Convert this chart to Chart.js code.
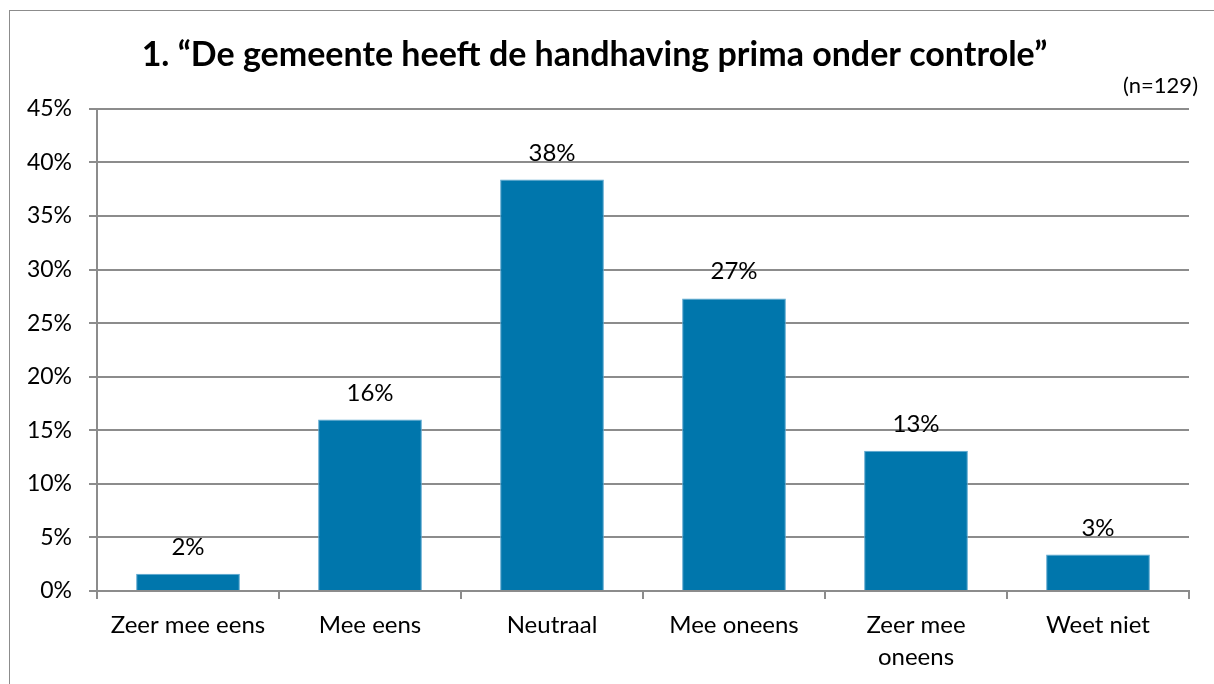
<!DOCTYPE html>
<html>
<head>
<meta charset="utf-8">
<script src="https://cdn.jsdelivr.net/npm/chart.js@4.4.1/dist/chart.umd.min.js"></script>
<style>
    html, body { margin: 0; padding: 0; background: #fff; overflow: hidden; }
    #frame { position: absolute; left: 9px; top: 10px; width: 1260px; height: 720px; border: 1px solid #8c8c8c; }
    #wrap { position: absolute; left: 0; top: 0; width: 1214px; height: 684px; }
</style>
</head>
<body>
<div id="frame"></div>
<div id="wrap"><canvas id="barChart"></canvas></div>
<script>
const categories = ['Zeer mee eens', 'Mee eens', 'Neutraal', 'Mee oneens', ['Zeer mee', 'oneens'], 'Weet niet'];
const percentages = [1.6, 16.0, 38.4, 27.3, 13.1, 3.4];
const valueLabels = ['2%', '16%', '38%', '27%', '13%', '3%'];
const titleText = '1. \u201cDe gemeente heeft de handhaving prima onder controle\u201d';
const sampleText = '(n=129)';

const fontFamily = 'Lato, "Open Sans", sans-serif';

// labels above the bars + the (n=...) note
const valueLabelPlugin = {
    id: 'valueLabels',
    afterDatasetsDraw(chart) {
        const ctx = chart.ctx;
        const meta = chart.getDatasetMeta(0);
        ctx.save();
        ctx.font = '24px ' + fontFamily;
        ctx.fillStyle = '#000';
        ctx.textAlign = 'center';
        ctx.textBaseline = 'alphabetic';
        meta.data.forEach((bar, i) => {
            ctx.fillText(valueLabels[i], bar.x, bar.y - 19);
        });
        ctx.textAlign = 'right';
        ctx.font = '22px ' + fontFamily;
        ctx.fillText(sampleText, chart.chartArea.right + 9, chart.chartArea.top - 16);
        ctx.restore();
    }
};

new Chart(document.getElementById('barChart'), {
    type: 'bar',
    data: {
        labels: categories,
        datasets: [{
            data: percentages,
            backgroundColor: '#0076ac',
            borderColor: '#5aa6cf',
            borderWidth: 1,
            barPercentage: 0.57,
            categoryPercentage: 1
        }]
    },
    options: {
        responsive: true,
        maintainAspectRatio: false,
        animation: false,
        layout: { padding: { left: 0, right: 25, top: 0, bottom: 0 } },
        plugins: {
            legend: { display: false },
            tooltip: { enabled: false },
            title: {
                display: true,
                text: titleText,
                color: '#000',
                font: { family: fontFamily, size: 34, weight: 'bold', lineHeight: 1.2 },
                padding: { top: 35, bottom: 33 }
            }
        },
        scales: {
            x: {
                grid: { display: true, drawOnChartArea: false, offset: true, tickLength: 8, color: '#8c8c8c', lineWidth: 2 },
                border: { color: '#8c8c8c', width: 2 },
                ticks: { color: '#000', font: { family: fontFamily, size: 24, lineHeight: 1.3 }, padding: 11, maxRotation: 0, autoSkip: false },
                afterFit(scale) { scale.height = 93; }
            },
            y: {
                min: 0,
                max: 45,
                ticks: {
                    stepSize: 5,
                    color: '#000',
                    padding: 17,
                    font: { family: fontFamily, size: 23 },
                    callback: v => v + '%'
                },
                grid: { color: '#8c8c8c', lineWidth: 2, tickLength: 8 },
                border: { color: '#8c8c8c', width: 2 },
                afterFit(scale) { scale.width = 97; }
            }
        }
    },
    plugins: [valueLabelPlugin]
});
</script>
</body>
</html>
